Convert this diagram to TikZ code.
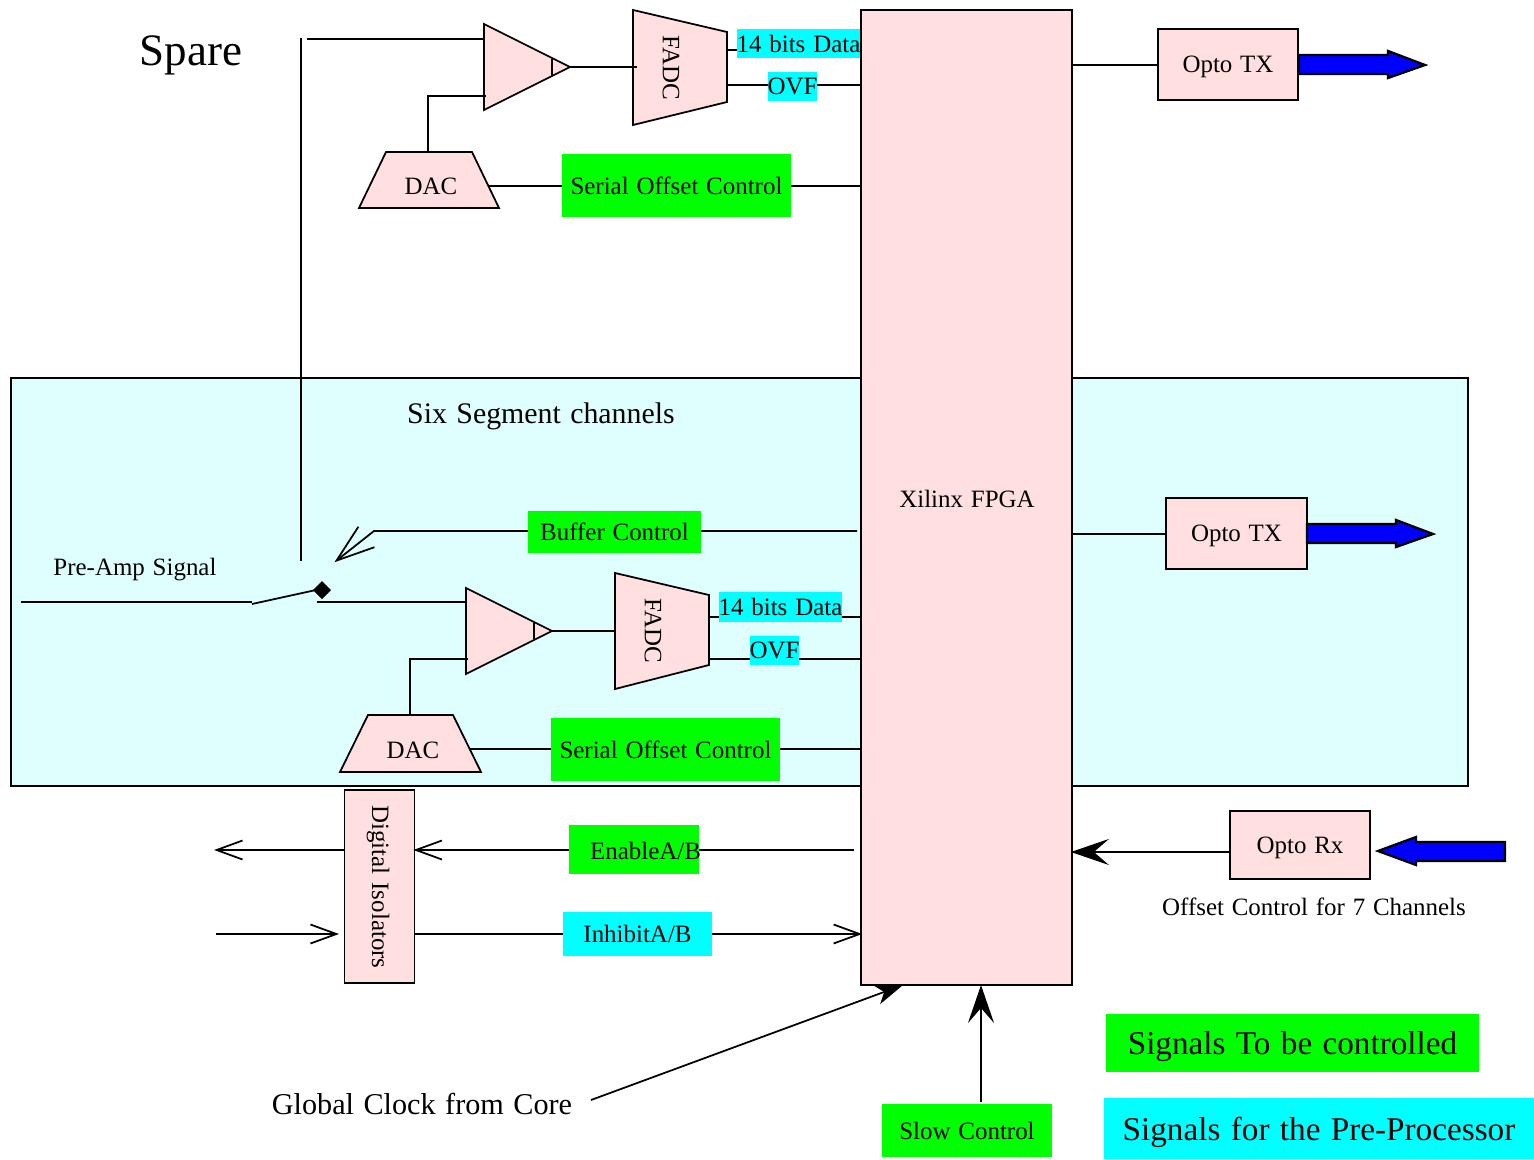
\documentclass[tikz,border=0pt]{standalone}
\usepackage{fontspec}
\setmainfont[WordSpace=1.25]{Liberation Serif}
\usetikzlibrary{arrows.meta}
\definecolor{boxpink}{HTML}{FFDFE0}
\definecolor{panelcyan}{HTML}{DFFFFF}
\definecolor{tagcyan}{HTML}{00FFFF}
\tikzset{
	wire/.style={line width=1pt},
	part/.style={draw,line width=1pt,fill=boxpink},
	box/.style={part,inner sep=0pt,text depth=0pt,font=\fontsize{14.2pt}{17pt}\selectfont},
	tag/.style={inner sep=0pt,font=\fontsize{14.2pt}{17pt}\selectfont},
	plain/.style={inner sep=0pt,font=\fontsize{14.2pt}{17pt}\selectfont},
	big/.style={inner sep=0pt,text depth=0pt,font=\fontsize{18.9pt}{22pt}\selectfont},
	pipe/.style={draw,line width=1.3pt,fill=blue},
	openhead/.style={shorten >=-0.04cm,-{Straight Barb[length=0.52cm,width=0.38cm,line width=1pt]}},
	heavyhead/.style={shorten >=-0.04cm,-{Stealth[length=0.76cm,width=0.52cm,inset=0.3cm]}}
}
\begin{document}
\begin{tikzpicture}[x=0.02cm,y=-0.02cm]
	\useasboundingbox (0,0) rectangle (1534,1159);

	%% panel behind the six channels
	\draw [wire,fill=panelcyan] (11,378) rectangle (1468,786);

	%% main boxes
	\node [box,minimum width=4.22cm,minimum height=19.5cm] (fpga) at (966.5,497.5) {};
	\node [plain] (fpgaText) at (967,499) {Xilinx FPGA};
	\node [box,minimum width=2.8cm,minimum height=1.42cm] (optoTop) at (1228,64.5) {Opto TX};
	\node [box,minimum width=2.82cm,minimum height=1.42cm] (optoMid) at (1236.5,533.5) {Opto TX};
	\node [box,minimum width=2.8cm,minimum height=1.36cm] (optoRx) at (1300,845) {Opto Rx};
	\node [box,minimum width=1.4cm,minimum height=3.86cm] (isolators) at (379.5,886.5) {};
	\node [plain,rotate=-90] (isolatorsText) at (378,887) {Digital Isolators};

	%% spare channel
	\draw [part] (484,24) -- (570,67) -- (484,110) -- cycle;
	\draw [wire] (552,59) -- (552,75);
	\draw [part] (633,10) -- (727,32) -- (727,102) -- (633,125) -- cycle;
	\node [plain,rotate=-90] (fadcTop) at (671,68) {FADC};
	\draw [part] (359,208) -- (499,208) -- (472,152) -- (386,152) -- cycle;
	\node [plain] (dacTop) at (431,186) {DAC};

	%% six segment channels
	\draw [part] (466,588) -- (552,631) -- (466,674) -- cycle;
	\draw [wire] (534,623) -- (534,639);
	\draw [part] (615,573) -- (709,595) -- (709,665) -- (615,689) -- cycle;
	\node [plain,rotate=-90] (fadcMid) at (653,631) {FADC};
	\draw [part] (340,772) -- (481,772) -- (453,715) -- (368,715) -- cycle;
	\node [plain] (dacMid) at (413,750) {DAC};

	%% wires
	\draw [wire] (301,38) -- (301,561);
	\draw [wire] (307,39) -- (484,39);
	\draw [wire] (428,152) -- (428,96) -- (486,96);
	\draw [wire] (570,67) -- (637,67);
	\draw [wire] (727,50) -- (737,50);
	\draw [wire] (727,85) -- (727,85 -| fpga.west);
	\draw [wire] (488,186) -- (488,186 -| fpga.west);
	\draw [wire] (fpga.east |- 0,65) -- (optoTop.west |- 0,65);
	\draw [wire] (fpga.east |- 0,534) -- (optoMid.west |- 0,534);
	\draw [wire] (21,602) -- (252,602);
	\draw [wire] (252,604) -- (316,590);
	\draw [wire] (317,602) -- (466,602);
	\draw [wire] (410,715) -- (410,659) -- (468,659);
	\draw [wire] (552,631) -- (615,631);
	\draw [wire] (709,617) -- (709,617 -| fpga.west);
	\draw [wire] (709,659) -- (709,659 -| fpga.west);
	\draw [wire] (470,749) -- (470,749 -| fpga.west);
	\draw [wire,shorten >=-0.04cm,-{Straight Barb[length=0.76cm,width=0.52cm,line width=1pt]}] (857,531) -- (374,531) -- (336,561);
	\fill (322,581) -- (331,590) -- (322,599) -- (313,590) -- cycle;
	\draw [wire,openhead] (854,850) -- (isolators.east |- 0,850);
	\draw [wire,openhead] (isolators.west |- 0,850) -- (216,850);
	\draw [wire,openhead] (216,934) -- (337,934);
	\draw [wire,openhead] (isolators.east |- 0,934) -- (fpga.west |- 0,934);
	\draw [wire,heavyhead] (optoRx.west |- 0,852) -- (fpga.east |- 0,852);
	\draw [wire,-{Stealth[length=0.56cm,width=0.4cm,inset=0.16cm]}] (591,1100) -- (903,985);
	\draw [wire,heavyhead] (981,1102) -- (981,987);

	%% fibre arrows
	\draw [pipe] (1299,55) -- (1388,55) -- (1388,51) -- (1425,65) -- (1388,78) -- (1388,74) -- (1299,74) -- cycle;
	\draw [pipe] (1307,524) -- (1396,524) -- (1396,520) -- (1433,534) -- (1396,547) -- (1396,543) -- (1307,543) -- cycle;
	\draw [pipe] (1505,842) -- (1416,842) -- (1416,837) -- (1378,851) -- (1416,865) -- (1416,861) -- (1505,861) -- cycle;

	%% coloured labels
	\node [tag,fill=tagcyan,minimum width=2.46cm,minimum height=0.58cm] (dataTop) at (798.5,43.5) {14 bits Data};
	\node [tag,fill=tagcyan,minimum width=0.98cm,minimum height=0.58cm] (ovfTop) at (792.5,86.5) {OVF};
	\node [tag,fill=green,minimum width=4.58cm,minimum height=1.26cm] (serialTop) at (676.5,185.5) {Serial Offset Control};
	\node [tag,fill=green,minimum width=3.46cm,minimum height=0.84cm] (buffer) at (614.5,532) {Buffer Control};
	\node [tag,fill=tagcyan,minimum width=2.46cm,minimum height=0.6cm] (dataMid) at (780.5,607) {14 bits Data};
	\node [tag,fill=tagcyan,minimum width=0.98cm,minimum height=0.58cm] (ovfMid) at (774.5,650.5) {OVF};
	\node [tag,fill=green,minimum width=4.58cm,minimum height=1.26cm] (serialMid) at (665.5,749.5) {Serial Offset Control};
	\node [tag,fill=green,minimum width=2.6cm,minimum height=0.98cm] (enable) at (634,849.5) {};
	\node [plain] (enableText) at (645.5,851) {EnableA/B};
	\node [tag,fill=tagcyan,minimum width=2.98cm,minimum height=0.88cm] (inhibit) at (637.5,934) {InhibitA/B};
	\node [tag,fill=green,minimum width=3.4cm,minimum height=1.06cm] (slow) at (967,1130.5) {Slow Control};
	\node [big,fill=green,minimum width=7.46cm,minimum height=1.16cm] (keyGreen) at (1292.5,1043) {Signals To be controlled};
	\node [big,fill=tagcyan,minimum width=8.6cm,minimum height=1.22cm] (keyCyan) at (1319,1128.5) {Signals for the Pre-Processor};

	%% free text
	\node [inner sep=0pt,font=\fontsize{25.6pt}{30pt}\selectfont] (spare) at (191,55) {Spare};
	\node [inner sep=0pt,font=\fontsize{17pt}{20pt}\selectfont] (six) at (541,416) {Six Segment channels};
	\node [plain] (preamp) at (135,570) {Pre-Amp Signal};
	\node [plain] (offset) at (1314,907) {Offset Control for 7 Channels};
	\node [inner sep=0pt,font=\fontsize{17.2pt}{20pt}\selectfont] (clock) at (422,1104) {Global Clock from Core};

\end{tikzpicture}
\end{document}
